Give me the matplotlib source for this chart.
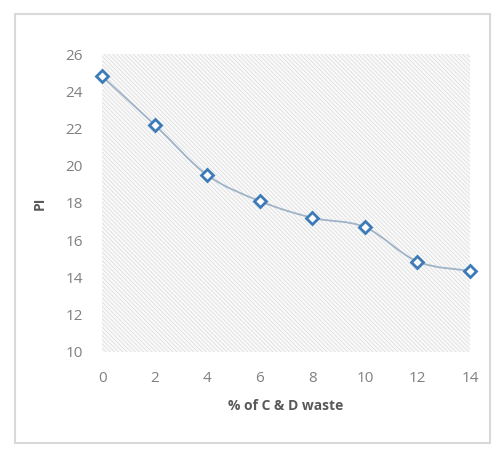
import matplotlib.pyplot as plt
from matplotlib.path import Path
from matplotlib.patches import PathPatch, Rectangle

x_vals = [0, 2, 4, 6, 8, 10, 12, 14]
pi_vals = [24.8, 22.2, 19.5, 18.1, 17.2, 16.7, 14.85, 14.35]
y_ticks = [10, 12, 14, 16, 18, 20, 22, 24, 26]

plt.rcParams['font.family'] = ['Open Sans', 'DejaVu Sans']
plt.rcParams['hatch.linewidth'] = 0.6

fig = plt.figure(figsize=(5.01, 4.51), dpi=100)
ax = fig.add_axes([0.204, 0.22, 0.734, 0.66])

# outer chart frame
fig.patches.append(Rectangle((0.03, 0.018), 0.948, 0.95, transform=fig.transFigure,
                             fill=False, edgecolor='#d9d9d9', linewidth=1.5))

# hatched plot area
ax.add_patch(Rectangle((0, 10), 14, 16, facecolor='#fafafa', hatch='\\' * 8,
                       edgecolor='#dedede', linewidth=0, zorder=0))

# smoothed line (Excel style), bezier through the points
verts = [(x_vals[0], pi_vals[0])]
codes = [Path.MOVETO]
n = len(x_vals)
t = 1 / 6
for i in range(n - 1):
    x0, y0 = x_vals[max(i - 1, 0)], pi_vals[max(i - 1, 0)]
    x1, y1 = x_vals[i], pi_vals[i]
    x2, y2 = x_vals[i + 1], pi_vals[i + 1]
    x3, y3 = x_vals[min(i + 2, n - 1)], pi_vals[min(i + 2, n - 1)]
    verts += [(x1 + (x2 - x0) * t, y1 + (y2 - y0) * t),
              (x2 - (x3 - x1) * t, y2 - (y3 - y1) * t),
              (x2, y2)]
    codes += [Path.CURVE4] * 3
ax.add_patch(PathPatch(Path(verts, codes), facecolor='none', edgecolor='#9fb3c8',
                       linewidth=1.3, zorder=2, clip_on=False))

ax.plot(x_vals, pi_vals, linestyle='none', marker='D', markersize=6.5,
        markerfacecolor='white', markeredgecolor='#3d7ab8', markeredgewidth=2,
        zorder=3, clip_on=False)

ax.set_xlim(0, 14)
ax.set_ylim(10, 26)
ax.set_xticks(x_vals)
ax.set_yticks(y_ticks)
ax.tick_params(length=0, labelsize=11, labelcolor='#808080')
ax.tick_params(axis='x', pad=14)
ax.tick_params(axis='y', pad=14)
for s in ax.spines.values():
    s.set_visible(False)
ax.set_facecolor('white')
ax.set_xlabel('% of C & D waste', fontsize=10, color='#595959', fontweight='bold', labelpad=9)
ax.set_ylabel('PI', fontsize=10, color='#595959', fontweight='bold', labelpad=13)

fig.savefig('out.png', dpi=100)
